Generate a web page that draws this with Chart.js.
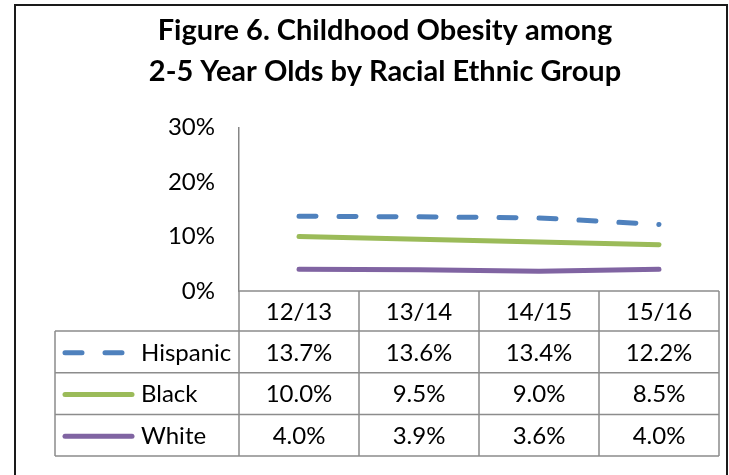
<!DOCTYPE html>
<html>
<head>
<meta charset="utf-8">
<script src="https://cdn.jsdelivr.net/npm/chart.js@4"></script>
<style>
  html, body { margin: 0; padding: 0; background: #ffffff; }
  #wrap { width: 729px; height: 475px; }
</style>
</head>
<body>
<div id="wrap"><canvas id="obesityChart" width="729" height="475"></canvas></div>
<script>
const years = ['12/13', '13/14', '14/15', '15/16'];
const hispanic = [13.7, 13.6, 13.4, 12.2];
const black = [10.0, 9.5, 9.0, 8.5];
const white = [4.0, 3.9, 3.6, 4.0];
const yTicks = [0, 10, 20, 30];

const FONT = 'Lato, "Open Sans", sans-serif';

// draws the outer frame and the data table under the plot
const tablePlugin = {
    id: 'dataTable',
    afterDraw(chart) {
        const ctx = chart.ctx;
        const area = chart.chartArea;
        const xs = chart.scales.x;
        const colW = (area.right - area.left) / years.length;
        const legendLeft = 55;
        const headerH = 40;
        const rowH = 41.7;
        const top = area.bottom;
        const rowsTop = top + headerH;
        const bottom = rowsTop + rowH * 3;

        ctx.save();
        // frame
        ctx.strokeStyle = '#1a1a1a';
        ctx.lineWidth = 2;
        ctx.strokeRect(15, 5, 712, 480);

        // grid
        ctx.strokeStyle = '#8c8c8c';
        ctx.lineWidth = 1.5;
        ctx.beginPath();
        ctx.moveTo(area.left, top);
        ctx.lineTo(area.right, top);
        for (let r = 0; r <= 3; r++) {
            ctx.moveTo(legendLeft, rowsTop + r * rowH);
            ctx.lineTo(area.right, rowsTop + r * rowH);
        }
        for (let c = 0; c <= years.length; c++) {
            ctx.moveTo(area.left + c * colW, top);
            ctx.lineTo(area.left + c * colW, bottom);
        }
        ctx.moveTo(legendLeft, rowsTop);
        ctx.lineTo(legendLeft, bottom);
        ctx.stroke();

        // header
        ctx.fillStyle = '#000000';
        ctx.font = '24px ' + FONT;
        ctx.textAlign = 'center';
        ctx.textBaseline = 'middle';
        years.forEach((y, i) => {
            ctx.fillText(y, xs.getPixelForValue(i), top + headerH / 2 + 1);
        });

        // rows
        chart.data.datasets.forEach((ds, r) => {
            const cy = rowsTop + rowH * r + rowH / 2 + 1;
            ds.data.forEach((v, i) => {
                ctx.textAlign = 'center';
                ctx.fillText(v.toFixed(1) + '%', xs.getPixelForValue(i), cy);
            });
            // legend key
            ctx.strokeStyle = ds.borderColor;
            ctx.lineWidth = ds.borderWidth;
            ctx.lineCap = 'round';
            ctx.setLineDash(ds.borderDash || []);
            ctx.beginPath();
            ctx.moveTo(65, cy);
            ctx.lineTo(ds.borderDash ? 125 : 132, cy);
            ctx.stroke();
            ctx.setLineDash([]);
            ctx.textAlign = 'left';
            ctx.fillText(ds.label, 141, cy);
        });
        ctx.restore();
    }
};

new Chart(document.getElementById('obesityChart').getContext('2d'), {
    type: 'line',
    data: {
        labels: years,
        datasets: [
            {
                label: 'Hispanic',
                data: hispanic,
                borderColor: '#4f81bd',
                borderWidth: 5,
                borderDash: [17, 23],
                borderCapStyle: 'round',
                pointRadius: 0,
                tension: 0
            },
            {
                label: 'Black',
                data: black,
                borderColor: '#9bbb59',
                borderWidth: 5,
                borderCapStyle: 'round',
                pointRadius: 0,
                tension: 0
            },
            {
                label: 'White',
                data: white,
                borderColor: '#8064a2',
                borderWidth: 5,
                borderCapStyle: 'round',
                pointRadius: 0,
                tension: 0
            }
        ]
    },
    options: {
        responsive: false,
        animation: false,
        events: [],
        layout: {
            padding: { left: 51, right: 10, top: 0, bottom: 184 }
        },
        scales: {
            x: {
                display: false,
                offset: true
            },
            y: {
                min: 0,
                max: 30,
                afterBuildTicks(scale) {
                    scale.ticks = yTicks.map(v => ({ value: v }));
                },
                afterFit(scale) {
                    scale.width = 188;
                },
                grid: { display: false },
                border: { color: '#868686', width: 1.5 },
                ticks: {
                    color: '#000000',
                    font: { family: FONT, size: 24 },
                    padding: 16,
                    callback: v => v + '%'
                }
            }
        },
        plugins: {
            legend: { display: false },
            tooltip: { enabled: false },
            title: {
                display: true,
                text: ['Figure 6. Childhood Obesity among', '2-5 Year Olds by Racial Ethnic Group'],
                color: '#000000',
                font: { family: FONT, size: 29, weight: 'bold', lineHeight: 1.42 },
                padding: { top: 10, bottom: 35 }
            }
        }
    },
    plugins: [tablePlugin]
});
</script>
</body>
</html>
